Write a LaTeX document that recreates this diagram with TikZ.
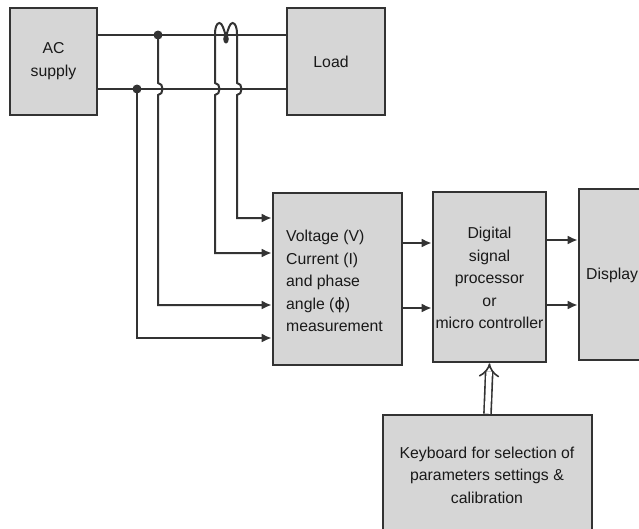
\documentclass[tikz,border=0pt]{standalone}
\usepackage{fontspec}
\setmainfont{Liberation Sans}
\newfontfamily\dvfont{DejaVu Sans}
\usetikzlibrary{arrows.meta}
\definecolor{ink}{HTML}{333333}
\definecolor{boxfill}{HTML}{D6D6D6}
\tikzset{
  blk/.style={draw=ink, line width=2.6pt, fill=boxfill, rectangle, inner sep=0pt},
  txt/.style={font=\fontsize{15.8}{22.5}\selectfont, align=center, text=black!90, inner sep=0pt},
  wire/.style={draw=ink, line width=2pt},
  arr/.style={wire, -{Latex[length=10pt,width=9pt]}},
  dot/.style={fill=ink, draw=none}
}
\begin{document}
\begin{tikzpicture}[x=1pt,y=-1pt]
\useasboundingbox (0,0) rectangle (639,528);
\clip (0,0) rectangle (639,528);
% boxes
\node[blk, minimum width=87pt, minimum height=107pt] (ac) at (53.5,61.5) {};
\node[txt] (actext) at (53.5,61) {AC\\supply};
\node[blk, minimum width=98pt, minimum height=107pt] (load) at (336,61.5) {};
\node[txt] (loadtext) at (331,62) {Load};
\node[blk, minimum width=129pt, minimum height=172pt] (meas) at (337.5,279) {};
\node[txt, align=left, anchor=west] (meastext) at (286,281) {Voltage (V)\\Current (I)\\and phase\\angle ({\dvfont ϕ})\\measurement};
\node[blk, minimum width=113pt, minimum height=170pt] (dsp) at (489.5,277) {};
\node[txt] (dsptext) at (489.5,278) {Digital\\signal\\processor\\or\\micro controller};
\node[blk, minimum width=101pt, minimum height=171pt] (disp) at (629.5,274.5) {};
\node[txt, anchor=west] (disptext) at (586,275) {Display};
\node[blk, minimum width=209pt, minimum height=145pt] (kb) at (487.5,487.5) {};
\node[txt] (kbtext) at (487,475) {Keyboard for selection of\\parameters settings \&\\calibration};
% coordinates
\coordinate (tA) at (97,35);
\coordinate (bA) at (97,89);
\coordinate (d1) at (158,35);
\coordinate (d2) at (137,89);
\coordinate (ct) at (226,37);
% main lines
\draw[wire] (tA) -- (tA -| load.west);
\draw[wire] (bA) -- (bA -| load.west);
% voltage taps
\draw[arr] (d2) -- (137,338) -- (meas.west |- 0,338);
\draw[arr] (d1) -- (158,83) .. controls (164,83) and (164,95) .. (158,95) -- (158,305) -- (meas.west |- 0,305);
% current transformer loops
\draw[arr] (ct) .. controls (224,29) and (222,23) .. (219.5,23) .. controls (216.5,23) and (215,28) .. (215,34) -- (215,83) .. controls (221,83) and (221,95) .. (215,95) -- (215,253) -- (meas.west |- 0,253);
\draw[arr] (ct) .. controls (228,29) and (230,23) .. (232.5,23) .. controls (235.5,23) and (237,28) .. (237,34) -- (237,83) .. controls (243,83) and (243,95) .. (237,95) -- (237,218) -- (meas.west |- 0,218);
\fill[dot] (226,39) ellipse (2.8 and 4.5);
\fill[dot] (d1) circle (4.5);
\fill[dot] (d2) circle (4.5);
% outputs
\draw[arr] (meas.east |- 0,243) -- (dsp.west |- 0,243);
\draw[arr] (meas.east |- 0,308) -- (dsp.west |- 0,308);
\draw[arr] (dsp.east |- 0,240) -- (disp.west |- 0,240);
\draw[arr] (dsp.east |- 0,305) -- (disp.west |- 0,305);
% keyboard double arrow
\draw[draw=ink, line width=1.6pt, double=white, double distance=5.5pt, -{Implies[length=9pt]}] (kb.north) -- (dsp.south);
\end{tikzpicture}
\end{document}
